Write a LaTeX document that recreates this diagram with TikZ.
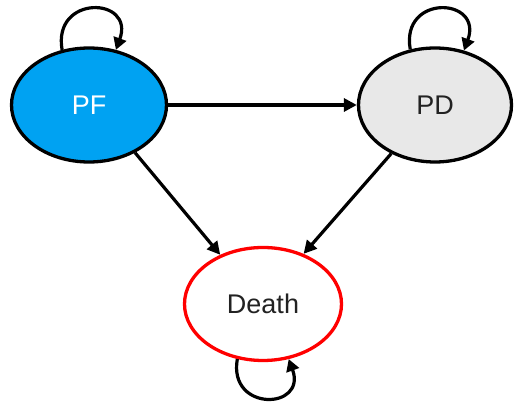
\documentclass[tikz,border=0pt]{standalone}
\usepackage{fontspec}
\setmainfont{Liberation Sans}
\usetikzlibrary{shapes.geometric,arrows.meta}
\definecolor{pfblue}{RGB}{0,162,242}
\definecolor{pdgray}{RGB}{232,232,232}
\definecolor{deathred}{RGB}{255,0,0}
\definecolor{txtdark}{RGB}{34,34,34}
\begin{document}
\begin{tikzpicture}[x=1pt,y=1pt,
  state/.style={ellipse,draw,line width=3.3pt,inner sep=0pt,font=\fontsize{27}{30}\selectfont},
  conn/.style={line width=3.2pt,-{Triangle[length=13pt,width=13pt]}},
  loopc/.style={line width=3.2pt,-{Triangle[length=12pt,width=13pt]},looseness=2.7}]
\useasboundingbox (0,0) rectangle (514,404);
\node[state,fill=pfblue,text=white,minimum width=155pt,minimum height=114pt] (PF) at (89,299) {PF};
\node[state,fill=pdgray,text=txtdark,minimum width=153pt,minimum height=114pt] (PD) at (435,299) {PD};
\node[state,draw=deathred,fill=white,text=txtdark,minimum width=157pt,minimum height=113pt] (D) at (263,100) {Death};
\draw[conn] (PF.east) -- (PD.west);
\draw[conn] (PF.-46) -- (D.131);
\draw[conn] (PD.228) -- (D.51);
\draw[loopc] (PF.116) to[out=100,in=70] (PF.64);
\draw[loopc] (PD.114) to[out=100,in=70] (PD.62);
\draw[loopc] (D.245) to[out=260,in=290] (D.295);
\end{tikzpicture}
\end{document}
